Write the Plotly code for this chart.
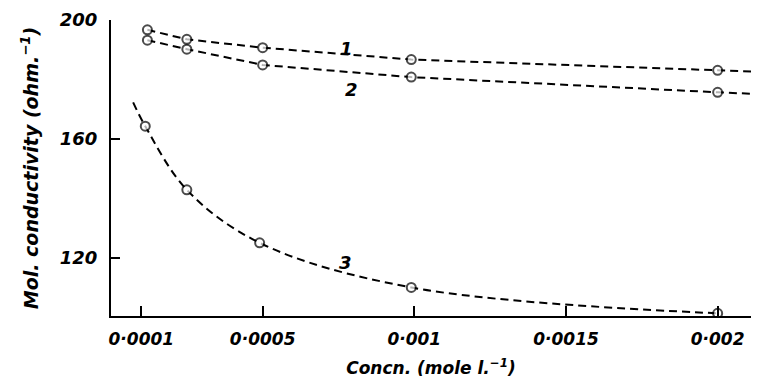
import plotly.graph_objects as go

# Data
x1 = [0.00012, 0.00025, 0.0005, 0.00099, 0.002, 0.00211]
y1 = [196.7, 193.5, 190.7, 186.7, 183.1, 182.7]
x2 = [0.00012, 0.00025, 0.0005, 0.00099, 0.002, 0.00211]
y2 = [193.2, 190.2, 184.9, 180.8, 175.7, 175.2]
x3 = [0.000073, 0.000113, 0.00025, 0.00049, 0.00099, 0.002]
y3 = [172.3, 164.3, 142.9, 125.1, 110.1, 101.4]

sizes1 = [9, 9, 9, 9, 9, 0]
sizes2 = [9, 9, 9, 9, 9, 0]
sizes3 = [0, 9, 9, 9, 9, 9]

xtick_vals = [0.0001, 0.0005, 0.001, 0.0015, 0.002]
xtick_text = ["0·0001", "0·0005", "0·001", "0·0015", "0·002"]
ytick_vals = [120, 160, 200]
ytick_text = ["120", "160", "200"]

labels = ["1", "2", "3"]
label_x = [0.000777, 0.000793, 0.000772]
label_y = [190.5, 176.7, 118.6]

FONT = "DejaVu Sans"

fig = go.Figure()
for xs, ys, ss, shape in [(x1, y1, sizes1, "linear"), (x2, y2, sizes2, "linear"), (x3, y3, sizes3, "spline")]:
    fig.add_trace(go.Scatter(
        x=xs, y=ys, mode="lines+markers",
        line=dict(color="black", width=2, dash="8px,5px", shape=shape),
        marker=dict(symbol="circle", size=ss, color="white", line=dict(width=2, color="black")),
        showlegend=False, hoverinfo="skip",
    ))

for t, lx, ly in zip(labels, label_x, label_y):
    fig.add_annotation(x=lx, y=ly, text="<b><i>" + t + "</i></b>", showarrow=False,
                       font=dict(family=FONT, size=18, color="black"))

fig.update_layout(
    width=760, height=384,
    margin=dict(l=111, r=9, t=14, b=67),
    plot_bgcolor="white", paper_bgcolor="white",
    font=dict(family=FONT, color="black"),
)
fig.update_xaxes(
    range=[0, 0.00211], showgrid=False, zeroline=False,
    showline=True, linecolor="black", linewidth=2,
    ticks="inside", ticklen=10, tickwidth=2, tickcolor="black",
    tickvals=xtick_vals, ticktext=["<b><i>" + t + "</i></b>" for t in xtick_text],
    tickfont=dict(family=FONT, size=17), ticklabelstandoff=7,
    title=dict(text="<b><i>Concn. (mole l.<sup>−1</sup>)</i></b>", font=dict(family=FONT, size=17), standoff=14),
)
fig.update_yaxes(
    range=[100.5, 200], showgrid=False, zeroline=False,
    showline=True, linecolor="black", linewidth=2,
    ticks="inside", ticklen=9, tickwidth=2, tickcolor="black",
    tickvals=ytick_vals, ticktext=["<b><i>" + t + "</i></b>" for t in ytick_text],
    tickfont=dict(family=FONT, size=18), ticklabelstandoff=8,
    title=dict(text="<b><i>Mol. conductivity (ohm.<sup>−1</sup>)</i></b>", font=dict(family=FONT, size=19), standoff=16),
)

fig.write_html("out.html")
